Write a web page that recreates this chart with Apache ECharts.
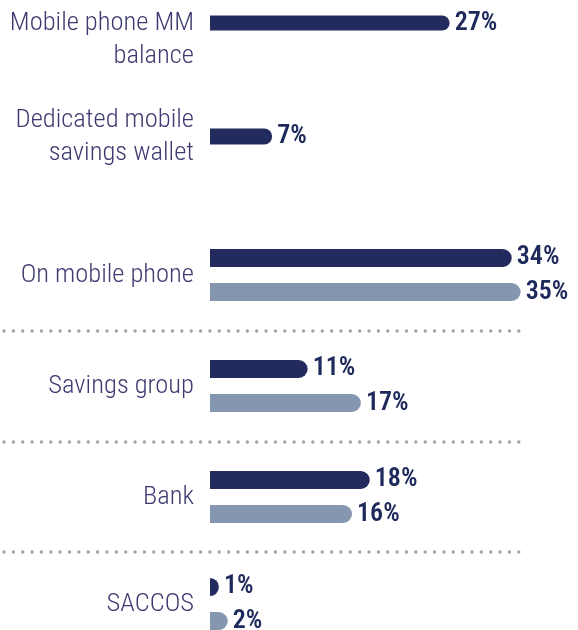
<!DOCTYPE html>
<html>
<head>
<meta charset="utf-8">
<script src="https://cdn.jsdelivr.net/npm/echarts@6/dist/echarts.min.js"></script>
<style>
  html, body { margin: 0; padding: 0; background: #ffffff; }
  #chart { width: 578px; height: 630px; }
</style>
</head>
<body>
<div id="chart"></div>
<script>
// ---- Data ----
const categories = [
  '\nMobile phone MM\nbalance',
  'Dedicated mobile\nsavings wallet',
  'On mobile phone',
  'Savings group',
  'Bank',
  'SACCOS'
];
const darkValues  = [27, 7, 34, 11, 18, 1];
const lightValues = [null, null, 35, 17, 16, 2];

// ---- Layout (styles / positions, not data) ----
const groupCenters = [23, 136.5, 275, 386, 497, 604];
const singleBarW   = [15, 16];
const separatorsY  = [331, 442, 552];

const DARK = '#222a5e';
const LIGHT = '#8596b0';
const TEXT = '#3d3a70';
const VALUE = '#1f2a5c';
const FAMILY = 'Roboto';

const grids = [], xAxes = [], yAxes = [], series = [];
categories.forEach((cat, i) => {
  grids.push({ left: 210, width: 355, top: groupCenters[i] - 40, height: 80, outerBoundsMode: 'none', containLabel: false });
  xAxes.push({ gridIndex: i, type: 'value', min: 0, max: 40, show: false });
  yAxes.push({
    gridIndex: i, type: 'category', data: [cat],
    axisLine: { show: false }, axisTick: { show: false },
    axisLabel: {
      margin: 16, fontSize: 26.5, lineHeight: 33, color: TEXT,
      fontFamily: FAMILY, fontWeight: '300 condensed', align: 'right'
    }
  });
  const two = lightValues[i] !== null;
  const bw = two ? 18 : singleBarW[i];
  const lbl = {
    show: true, position: 'right', distance: 5, formatter: '{c}%',
    fontSize: 26, fontFamily: FAMILY, fontWeight: '600 condensed', color: VALUE
  };
  series.push({
    type: 'bar', xAxisIndex: i, yAxisIndex: i, data: [darkValues[i]],
    barWidth: bw, barGap: '89%',
    itemStyle: { color: DARK, borderRadius: [0, bw / 2, bw / 2, 0] },
    label: lbl, silent: true
  });
  if (two) {
    series.push({
      type: 'bar', xAxisIndex: i, yAxisIndex: i, data: [lightValues[i]],
      barWidth: bw, barGap: '89%',
      itemStyle: { color: LIGHT, borderRadius: [0, bw / 2, bw / 2, 0] },
      label: lbl, silent: true
    });
  }
});

const graphic = separatorsY.map(y => ({
  type: 'line', silent: true,
  shape: { x1: 4, y1: y, x2: 519, y2: y },
  style: { stroke: '#a3a3a3', lineWidth: 3.4, lineCap: 'round', lineDash: [0, 9.36] }
}));

const chart = echarts.init(document.getElementById('chart'), null, { renderer: 'canvas' });
chart.setOption({
  animation: false,
  grid: grids, xAxis: xAxes, yAxis: yAxes, series: series, graphic: graphic
});
</script>
</body>
</html>
